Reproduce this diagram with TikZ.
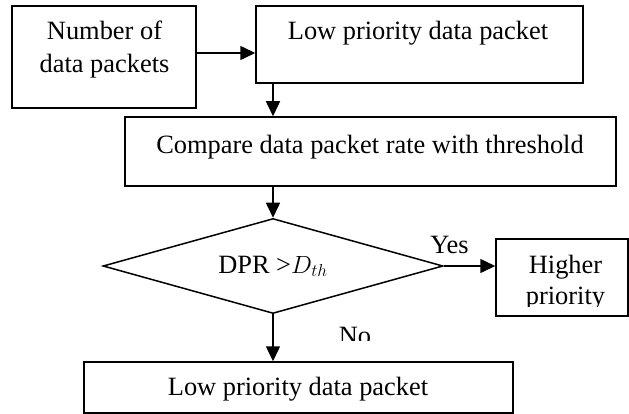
\documentclass[tikz,border=0pt]{standalone}
\usepackage{fontspec}
\setmainfont{Liberation Serif}
\usetikzlibrary{shapes.geometric,arrows.meta}
\tikzset{
  box/.style={draw, line width=1.5pt, inner sep=0pt, rectangle},
  dia/.style={draw, line width=1.5pt, inner sep=0pt, diamond},
  txt/.style={inner sep=0pt, anchor=base, align=center},
  arr/.style={line width=1.5pt, -{Triangle[length=15pt,width=14pt]}}
}
\begin{document}
\begin{tikzpicture}[x=1pt,y=-1pt,font=\fontsize{26.4}{33}\selectfont]
\useasboundingbox (0,0) rectangle (629,414);
% boxes
\node[box, minimum width=184pt, minimum height=102pt] (A) at (104,57) {};
\node[box, minimum width=327pt, minimum height=77pt] (B) at (419.5,44.5) {};
\node[box, minimum width=491pt, minimum height=69pt] (C) at (370.5,151.5) {};
\node[dia, minimum width=340pt, minimum height=95pt] (D) at (273,266) {};
\node[box, minimum width=132pt, minimum height=77pt] (H) at (562,277.5) {};
\node[box, minimum width=429pt, minimum height=51pt] (E) at (298.5,387.5) {};
% texts
\node[txt] (tA1) at (104.5,40) {Number of};
\node[txt] (tA2) at (104.5,73) {data packets};
\node[txt] (tB) at (418,40) {Low priority data packet};
\node[txt] (tC) at (370,154) {Compare data packet rate with threshold};
\node[txt] (tD) at (273,273) {DPR >$D_{th}$};
\node[txt] (tE) at (298,395) {Low priority data packet};
\node[txt] (tY) at (449.5,253) {Yes};
\begin{scope}
  \clip (500,240) rectangle (626,306);
  \node[txt] (tH1) at (565.5,273) {Higher};
  \node[txt] (tH2) at (565.5,304) {priority};
\end{scope}
\begin{scope}
  \clip (320,310) rectangle (400,340);
  \node[txt] (tN) at (355,344) {No};
\end{scope}
% connectors
\draw[arr] ([yshift=4pt]A.east) -- ([yshift=4pt]A.east -| B.west);
\draw[arr] (B.south -| D.north) -- (C.north -| D.north);
\draw[arr] (C.south -| D.north) -- (D.north);
\draw[arr] (D.east) -- (D.east -| H.west);
\draw[arr] (D.south) -- (E.north -| D.south);
\end{tikzpicture}
\end{document}
